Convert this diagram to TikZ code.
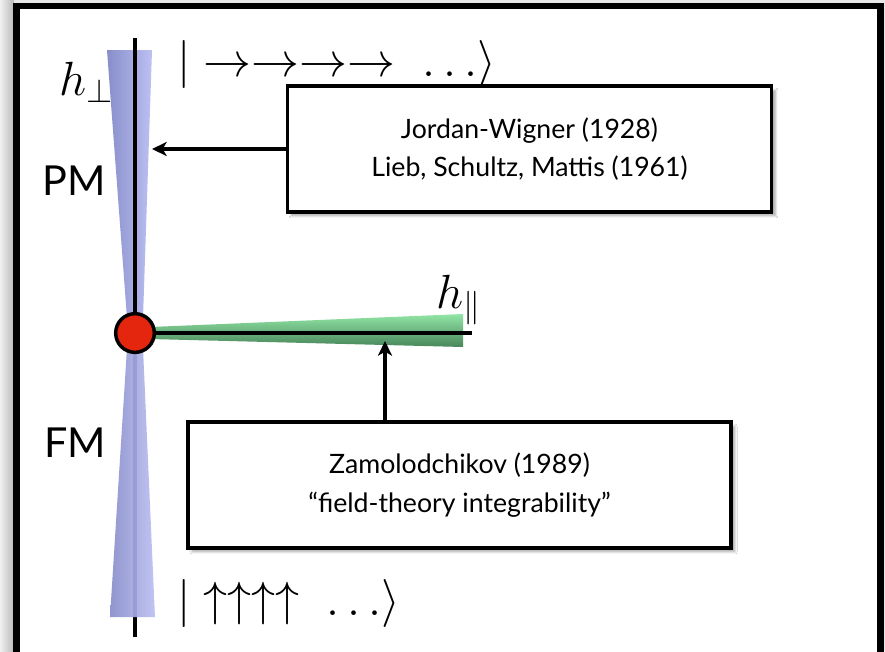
\RequirePackage{fix-cm}
\documentclass[tikz,border=0pt]{standalone}
\usepackage{fontspec}
\setsansfont{Lato}
\usetikzlibrary{arrows.meta,positioning,shadows.blur}

\definecolor{wedgeDark}{RGB}{136,142,202}
\definecolor{wedgeLight}{RGB}{188,192,242}
\definecolor{fieldLight}{RGB}{146,230,166}
\definecolor{fieldDark}{RGB}{72,134,90}
\definecolor{critRed}{RGB}{228,38,14}
\definecolor{axisNavy}{RGB}{14,14,60}

\begin{document}
\begin{tikzpicture}[
  x=0.75pt,y=-0.75pt,>=Stealth,
  refbox/.style={draw,line width=2.8pt,fill=white,align=center,inner sep=0pt,
    font=\sffamily\fontsize{20}{29}\selectfont,
    blur shadow={shadow xshift=3pt,shadow yshift=-3pt,shadow blur steps=8,shadow opacity=35}},
  phase/.style={anchor=base,inner sep=0pt,font=\sffamily\fontsize{31}{36}\selectfont},
  ket/.style={anchor=base west,inner sep=0pt,font=\fontsize{36}{40}\selectfont},
  field/.style={anchor=base west,inner sep=0pt,font=\fontsize{36}{40}\selectfont},
  axis/.style={line width=3.7pt},
  pointer/.style={-{Stealth[length=11pt,width=10.5pt,inset=3pt]},line width=2.4pt}]
  \useasboundingbox (0,0) rectangle (885,651);
  \clip (0,0) rectangle (885,651);
  % slide frame
  \fill[gray!18] (0,0) rectangle (885,651);
  \shade[left color=gray!12,right color=gray!55] (0,0) rectangle (14,651);
  \filldraw[fill=white,line width=5pt] (16.5,6) rectangle (880.5,720);
  % transverse field wedge (vertical) and longitudinal field wedge
  \shade[left color=wedgeDark,right color=wedgeLight] (107,50) -- (152,50) -- (143,318) -- (127,318) -- cycle;
  \draw[axis] (135,38) -- (135,333);
  \draw[axis,axisNavy] (135,333) -- (135,617);
  \draw[axis] (135,617) -- (135,637);
  \shade[left color=wedgeDark,right color=wedgeLight,opacity=.92] (110,617) -- (155,617) -- (143,348) -- (127,348) -- cycle;
  \shade[top color=fieldLight,bottom color=fieldDark] (150,327) -- (463,314) -- (463,347) -- (150,339) -- cycle;
  \draw[axis] (135,333) -- (472,333);
  \node[circle,draw,line width=2.6pt,fill=critRed,minimum size=29pt,inner sep=0pt] (crit) at (135,333) {};
  % labels
  \node[field] (hperp) at (59,95) {$h_\perp$};
  \node[field] (hpar) at (436,308) {$h_\parallel$};
  \node[phase] (pm) at (74,195) {PM};
  \node[phase] (fm) at (75,457) {FM};
  \node[ket] (ketx) at (177,76) {$|\rightarrow\rightarrow\rightarrow\rightarrow\;\ldots\rangle$};
  \node[ket] (ketz) at (177,615) {$|\uparrow\uparrow\uparrow\uparrow\;\ldots\rangle$};
  % references
  \node[refbox,minimum width=363pt,minimum height=94pt] (jw) at (529.5,149)
    {Jordan-Wigner (1928)\\Lieb, Schultz, Mattis (1961)};
  \node[refbox,minimum width=407pt,minimum height=94pt] (zam) at (459.5,485)
    {Zamolodchikov (1989)\\``field-theory integrability''};
  \coordinate (perpTip) at (152,149);
  \coordinate (parTip) at (385,341);
  \draw[pointer] (jw.west) -- (perpTip);
  \draw[pointer] (parTip |- zam.north) -- (parTip);
\end{tikzpicture}
\end{document}
